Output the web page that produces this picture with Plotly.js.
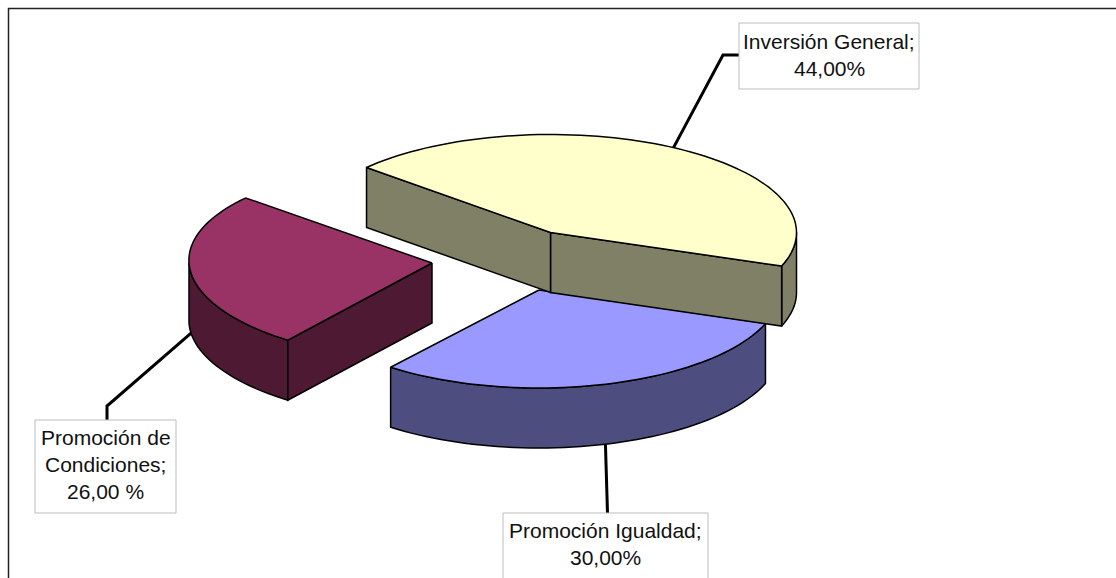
<!DOCTYPE html>
<html>
<head>
<meta charset="utf-8">
<script src="https://cdn.plot.ly/plotly-3.0.1.min.js"></script>
<style>html,body{margin:0;padding:0;background:#fff;overflow:hidden}#chart{width:1116px;height:578px}</style>
</head>
<body>
<div id="chart"></div>
<script>
// Data
const categories = ["Inversión General", "Promoción de Condiciones", "Promoción Igualdad"];
const shares = [44, 26, 30];
const labelLines = [["Inversión General;", "44,00%"], ["Promoción de", "Condiciones;", "26,00 %"], ["Promoción Igualdad;", "30,00%"]];

// Styling
const topColors = ["#FFFFCC", "#993366", "#9999FF"];
const wallColors = ["#808066", "#4D1933", "#4D4D80"];

// Projection of the exploded pie
const firstAngle = -20;           // where the first slice starts, degrees
const radiiX = [246, 243, 241], Ry = 98, depth = 60;
const shear = [0, 0.07, 0];
const apexes = [[550.5, 232.5], [432, 263], [539, 290]];

// Slice angles derived from the shares
const total = shares.reduce((a, b) => a + b, 0);
const spans = [];
let acc = firstAngle;
shares.forEach(s => { const e = acc + 360 * s / total; spans.push([acc, e]); acc = e; });

function pt(i, deg, drop) {
  const r = deg * Math.PI / 180;
  const dy = -Ry * Math.sin(r);
  return [apexes[i][0] + radiiX[i] * Math.cos(r) + shear[i] * dy, apexes[i][1] + dy + (drop || 0)];
}
function arc(i, a0, a1, drop) {
  const n = Math.max(2, Math.ceil(Math.abs(a1 - a0) / 2));
  const out = [];
  for (let k = 0; k <= n; k++) out.push(pt(i, a0 + (a1 - a0) * k / n, drop));
  return out;
}
function poly(points, color, name) {
  const closed = points.concat([points[0]]);
  return {
    type: "scatter", mode: "lines", name: name,
    x: closed.map(p => p[0]), y: closed.map(p => p[1]),
    fill: "toself", fillcolor: color,
    line: {color: "#000", width: 1.5, simplify: false},
    hoverinfo: "name", showlegend: false
  };
}
function topFace(i) {
  return poly([apexes[i]].concat(arc(i, spans[i][0], spans[i][1])), topColors[i], categories[i]);
}
function outerWall(i, a0, a1) {
  return poly(arc(i, a0, a1).concat(arc(i, a1, a0, depth)), wallColors[i], categories[i]);
}
function cutWall(i, deg) {
  const c = pt(i, deg), cb = pt(i, deg, depth), ap = apexes[i];
  return poly([ap, c, cb, [ap[0], ap[1] + depth]], wallColors[i], categories[i]);
}

const traces = [
  // Promoción Igualdad (behind the others)
  outerWall(2, spans[2][0], spans[2][1]),
  topFace(2),
  // Promoción de Condiciones
  outerWall(1, 180, spans[1][1]),
  cutWall(1, spans[1][1]),
  topFace(1),
  // Inversión General
  outerWall(0, spans[0][0], 0),
  cutWall(0, spans[0][0]),
  cutWall(0, spans[0][1]),
  topFace(0)
];

// Leader lines start on the slice rims
const leaderStart = [pt(0, 60), pt(1, 186, depth), pt(2, 286, depth)];
const leaderBends = [[[723, 55], [739, 55]], [[107, 406], [107, 420]], [[607.5, 513]]];
leaderStart.forEach((s, i) => {
  const path = [s].concat(leaderBends[i]);
  traces.push({
    type: "scatter", mode: "lines", x: path.map(p => p[0]), y: path.map(p => p[1]),
    line: {color: "#000", width: 3}, hoverinfo: "skip", showlegend: false
  });
});

// Label boxes: left, right, top, bottom, first line centre, line step
const boxes = [
  {x0: 739, x1: 919, y0: 23, y1: 89, first: 41, step: 27},
  {x0: 35, x1: 176, y0: 420, y1: 513, first: 437, step: 27},
  {x0: 503, x1: 708, y0: 513, y1: 610, first: 530, step: 27}
];
const shapes = [{
  type: "path", xref: "x", yref: "y", path: "M 8.5 640 L 8.5 8.5 L 1120 8.5",
  line: {color: "#222", width: 1.5}, layer: "below"
}];
const annotations = [];
boxes.forEach((b, i) => {
  shapes.push({
    type: "rect", xref: "x", yref: "y", x0: b.x0, x1: b.x1, y0: b.y0, y1: b.y1,
    line: {color: "#BDBDBD", width: 1}, fillcolor: "#fff", layer: "above"
  });
  labelLines[i].forEach((t, k) => annotations.push({
    xref: "x", yref: "y", x: (b.x0 + b.x1) / 2, y: b.first + k * b.step,
    xanchor: "center", yanchor: "middle", showarrow: false, text: t,
    font: {family: "Liberation Sans, Arial, sans-serif", size: 21, color: "#111"}
  }));
});

const layout = {
  width: 1116, height: 578,
  margin: {l: 0, r: 0, t: 0, b: 0, pad: 0},
  paper_bgcolor: "#fff", plot_bgcolor: "#fff",
  showlegend: false,
  xaxis: {range: [0, 1116], visible: false, fixedrange: true},
  yaxis: {range: [578, 0], visible: false, fixedrange: true},
  shapes: shapes, annotations: annotations
};
Plotly.newPlot("chart", traces, layout, {displayModeBar: false, staticPlot: true});
</script>
</body>
</html>
